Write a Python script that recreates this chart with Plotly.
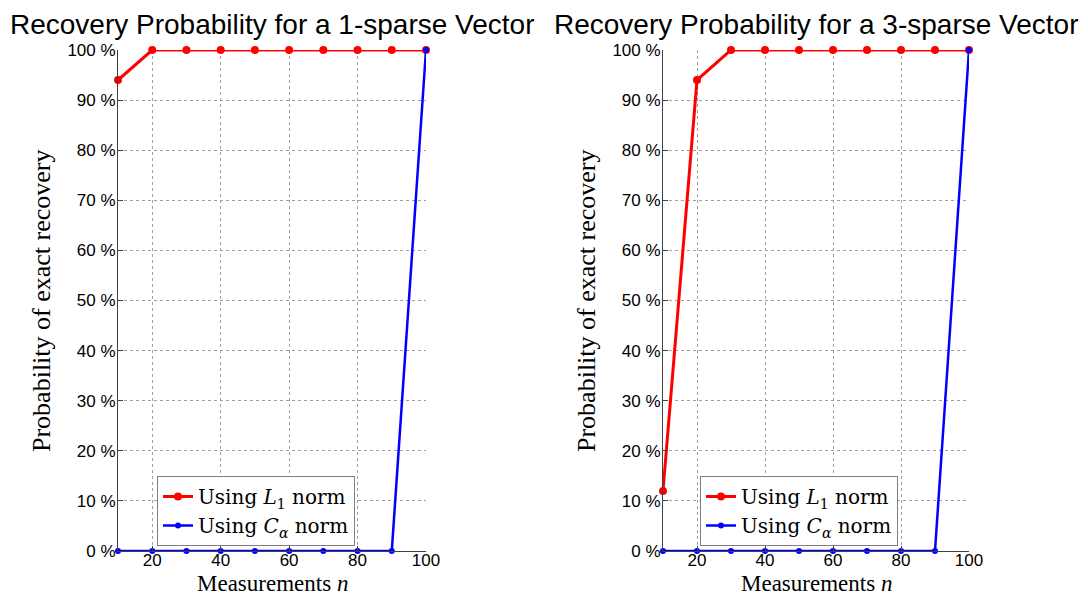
import plotly.graph_objects as go

# Measurement counts n
n_values = [10, 20, 30, 40, 50, 60, 70, 80, 90, 100]

# Probability of exact recovery, 1-sparse vector
l1_sparse1 = [0.94, 1, 1, 1, 1, 1, 1, 1, 1, 1]
ca_sparse1 = [0, 0, 0, 0, 0, 0, 0, 0, 0, 1]

# Probability of exact recovery, 3-sparse vector
l1_sparse3 = [0.12, 0.94, 1, 1, 1, 1, 1, 1, 1, 1]
ca_sparse3 = [0, 0, 0, 0, 0, 0, 0, 0, 0, 1]

titles = ["Recovery Probability for a 1-sparse Vector",
          "Recovery Probability for a 3-sparse Vector"]

y_tick_vals = [0, 0.1, 0.2, 0.3, 0.4, 0.5, 0.6, 0.7, 0.8, 0.9, 1.0]
y_tick_text = ["0 %", "10 %", "20 %", "30 %", "40 %", "50 %",
               "60 %", "70 %", "80 %", "90 %", "100 %"]
x_tick_vals = [20, 40, 60, 80, 100]

L1_NAME = "Using <i>L</i><sub>1</sub> norm"
CA_NAME = "Using <i>C</i><sub><i>α</i></sub> norm"

RED = "#ff0000"
BLUE = "#0000ff"
SANS = "Liberation Sans, Arial, sans-serif"
SERIF = "Liberation Serif, Times New Roman, serif"
WIDE_SERIF = "DejaVu Serif, serif"

W, H = 1088, 597
ML, MR, MT, MB = 118, 119, 50, 46
plot_w = W - ML - MR
plot_h = H - MT - MB

left_dom = [0, (426 - ML) / plot_w]
right_dom = [(663 - ML) / plot_w, 1]

fig = go.Figure()

panels = [
    (l1_sparse1, ca_sparse1, "x", "y", "legend"),
    (l1_sparse3, ca_sparse3, "x2", "y2", "legend2"),
]
for l1, ca, xa, ya, lg in panels:
    fig.add_trace(go.Scatter(
        x=n_values, y=l1, name=L1_NAME, mode="lines+markers",
        line=dict(color=RED, width=3), marker=dict(color=RED, size=8),
        xaxis=xa, yaxis=ya, legend=lg, cliponaxis=False))
    fig.add_trace(go.Scatter(
        x=n_values, y=ca, name=CA_NAME, mode="lines+markers",
        line=dict(color=BLUE, width=2.5), marker=dict(color=BLUE, size=6),
        xaxis=xa, yaxis=ya, legend=lg, cliponaxis=False))

axis_common = dict(
    showline=True, linecolor="#404040", linewidth=1,
    ticks="inside", ticklen=5, tickcolor="#404040",
    showgrid=True, gridcolor="#a0a0a0", griddash="dot", gridwidth=1,
    zeroline=False, tickfont=dict(family=SANS, size=17, color="black"),
)

fig.update_layout(
    xaxis=dict(domain=left_dom, range=[10, 100], tickvals=x_tick_vals,
               anchor="y", ticklabelstandoff=-6, **axis_common),
    yaxis=dict(domain=[0, 1], range=[0, 1], tickvals=y_tick_vals,
               ticktext=y_tick_text, anchor="x", ticklabelstandoff=-2,
               **axis_common),
    xaxis2=dict(domain=right_dom, range=[10, 100], tickvals=x_tick_vals,
                anchor="y2", ticklabelstandoff=-6, **axis_common),
    yaxis2=dict(domain=[0, 1], range=[0, 1], tickvals=y_tick_vals,
                ticktext=y_tick_text, anchor="x2", ticklabelstandoff=-2,
                **axis_common),
)

legend_style = dict(
    bgcolor="white", bordercolor="#808080", borderwidth=1,
    font=dict(family=WIDE_SERIF, size=20, color="black"),
    xanchor="left", yanchor="top", tracegroupgap=0,
    itemwidth=30,
)
fig.update_layout(
    legend=dict(x=(157 - ML) / plot_w, y=(H - MB - 476) / plot_h, **legend_style),
    legend2=dict(x=(700 - ML) / plot_w, y=(H - MB - 476) / plot_h, **legend_style),
)

annotations = []
for dom, title in zip([left_dom, right_dom], titles):
    cx = (dom[0] + dom[1]) / 2
    annotations.append(dict(
        text=title, x=cx, y=1, xref="paper", yref="paper",
        xanchor="center", yanchor="bottom", yshift=8, showarrow=False,
        font=dict(family=SANS, size=28, color="black")))
    annotations.append(dict(
        text="Measurements <i>n</i>", x=cx, y=0, xref="paper", yref="paper",
        xanchor="center", yanchor="bottom", yshift=-MB, borderpad=0,
        showarrow=False, font=dict(family=SERIF, size=23, color="black")))
    annotations.append(dict(
        text="Probability of exact recovery", x=dom[0], y=0.5,
        xref="paper", yref="paper", xanchor="right", yanchor="middle",
        xshift=-60, textangle=-90, showarrow=False,
        font=dict(family=SERIF, size=26, color="black")))

fig.update_layout(
    width=W, height=H,
    margin=dict(l=ML, r=MR, t=MT, b=MB),
    paper_bgcolor="white", plot_bgcolor="white",
    annotations=annotations,
    showlegend=True,
)

fig.write_html("out.html")
